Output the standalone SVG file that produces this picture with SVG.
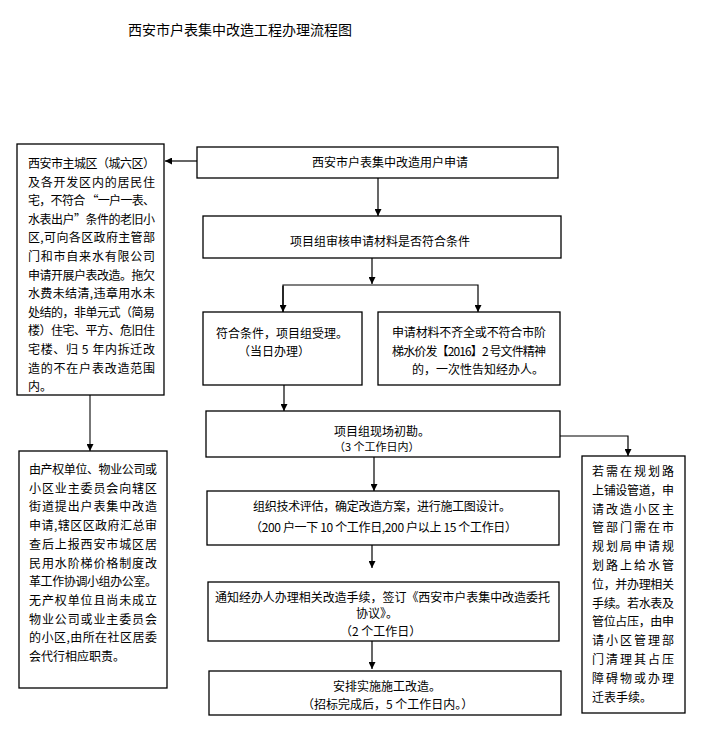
<svg xmlns="http://www.w3.org/2000/svg" width="707" height="756" viewBox="0 0 707 756">
<style>
.bx{fill:#fff;stroke:#000;stroke-width:1.3}
.t{font-family:"Noto Sans CJK SC","Liberation Sans",sans-serif;font-size:12px;fill:#000}
.s{font-size:11px}
.ln{fill:none;stroke:#000;stroke-width:1.2}
.gr{fill:none;stroke:#777;stroke-width:2}
</style>
<defs>
<marker id="ah" viewBox="0 0 10 10" refX="10" refY="5" markerWidth="7" markerHeight="7" markerUnits="userSpaceOnUse" orient="auto">
<path d="M0,0 L10,5 L0,10 z" fill="#000"/>
</marker>
</defs>
<rect width="707" height="756" fill="#fff"/>
<text class="t" x="128" y="35" style="font-size:14px">西安市户表集中改造工程办理流程图</text>

<g id="connectors">
<line class="ln" x1="197" y1="161" x2="165" y2="161" marker-end="url(#ah)"/>
<line class="ln" x1="378" y1="178" x2="378" y2="216" marker-end="url(#ah)"/>
<line class="ln" x1="372" y1="258" x2="372" y2="284" marker-end="url(#ah)"/>
<polyline class="ln" points="283,312 283,285 478,285 478,312" marker-end="url(#ah)"/>
<line class="ln" x1="283" y1="286" x2="283" y2="312" marker-end="url(#ah)"/>
<line class="ln" x1="284" y1="385" x2="284" y2="411" marker-end="url(#ah)"/>
<line class="gr" x1="90" y1="395" x2="90" y2="451" marker-end="url(#ah)"/>
<line class="ln" x1="374" y1="457" x2="374" y2="491" marker-end="url(#ah)"/>
<line class="ln" x1="372" y1="545" x2="372" y2="568" marker-end="url(#ah)"/>
<line class="ln" x1="372" y1="641" x2="372" y2="669" marker-end="url(#ah)"/>
<polyline class="ln" points="560,436 628,436 628,456" marker-end="url(#ah)"/>
</g>

<g id="n-left-top">
<rect class="bx" x="17" y="144" width="147" height="251"/>
<text class="t" x="28" y="168" textLength="127" lengthAdjust="spacing">西安市主城区（城六区）</text>
<text class="t" x="28" y="186.6" textLength="127" lengthAdjust="spacing">及各开发区内的居民住</text>
<text class="t" x="28" y="205.2" textLength="127" lengthAdjust="spacing">宅，不符合 “一户一表、</text>
<text class="t" x="28" y="223.8" textLength="127" lengthAdjust="spacing">水表出户”条件的老旧小</text>
<text class="t" x="28" y="242.4" textLength="127" lengthAdjust="spacing">区,可向各区政府主管部</text>
<text class="t" x="28" y="261" textLength="127" lengthAdjust="spacing">门和市自来水有限公司</text>
<text class="t" x="28" y="279.6" textLength="127" lengthAdjust="spacing">申请开展户表改造。拖欠</text>
<text class="t" x="28" y="298.2" textLength="127" lengthAdjust="spacing">水费未结清,违章用水未</text>
<text class="t" x="28" y="316.8" textLength="127" lengthAdjust="spacing">处结的，非单元式（简易</text>
<text class="t" x="28" y="335.4" textLength="127" lengthAdjust="spacing">楼）住宅、平方、危旧住</text>
<text class="t" x="28" y="354" textLength="127" lengthAdjust="spacing">宅楼、归 5 年内拆迁改</text>
<text class="t" x="28" y="372.6" textLength="127" lengthAdjust="spacing">造的不在户表改造范围</text>
<text class="t" x="28" y="391.2">内。</text>
</g>

<g id="n-left-bottom">
<rect class="bx" x="19" y="451" width="148" height="237"/>
<text class="t" x="29" y="474" textLength="128" lengthAdjust="spacing">由产权单位、物业公司或</text>
<text class="t" x="29" y="492.7" textLength="128" lengthAdjust="spacing">小区业主委员会向辖区</text>
<text class="t" x="29" y="511.4" textLength="128" lengthAdjust="spacing">街道提出户表集中改造</text>
<text class="t" x="29" y="530.1" textLength="128" lengthAdjust="spacing">申请,辖区区政府汇总审</text>
<text class="t" x="29" y="548.8" textLength="128" lengthAdjust="spacing">查后上报西安市城区居</text>
<text class="t" x="29" y="567.5" textLength="128" lengthAdjust="spacing">民用水阶梯价格制度改</text>
<text class="t" x="29" y="586.2" textLength="128" lengthAdjust="spacing">革工作协调小组办公室。</text>
<text class="t" x="29" y="604.9" textLength="128" lengthAdjust="spacing">无产权单位且尚未成立</text>
<text class="t" x="29" y="623.6" textLength="128" lengthAdjust="spacing">物业公司或业主委员会</text>
<text class="t" x="29" y="642.3" textLength="128" lengthAdjust="spacing">的小区,由所在社区居委</text>
<text class="t" x="29" y="661">会代行相应职责。</text>
</g>

<g id="n-apply">
<rect class="bx" x="197" y="147" width="361" height="31"/>
<text class="t" x="312" y="167">西安市户表集中改造用户申请</text>
</g>

<g id="n-review">
<rect class="bx" x="203" y="216" width="358" height="42"/>
<text class="t" x="290" y="246">项目组审核申请材料是否符合条件</text>
</g>

<g id="n-accept">
<rect class="bx" x="203" y="312" width="159" height="73"/>
<text class="t" x="216" y="338">符合条件，项目组受理。</text>
<text class="t" x="238" y="356">（当日办理）</text>
</g>

<g id="n-reject">
<rect class="bx" x="378" y="312" width="182" height="73"/>
<text class="t" x="392" y="337" textLength="154" lengthAdjust="spacing">申请材料不齐全或不符合市阶</text>
<text class="t" x="392" y="356" textLength="154" lengthAdjust="spacing">梯水价发【2016】2 号文件精神</text>
<text class="t" x="412" y="374">的，一次性告知经办人。</text>
</g>

<g id="n-survey">
<rect class="bx" x="206" y="411" width="354" height="46"/>
<text class="t" x="334" y="436">项目组现场初勘。</text>
<text class="t s" x="334" y="451">（3 个工作日内）</text>
</g>

<g id="n-design">
<rect class="bx" x="207" y="491" width="352" height="54"/>
<text class="t" x="253" y="511" textLength="258" lengthAdjust="spacing">组织技术评估，确定改造方案，进行施工图设计。</text>
<text class="t" x="250" y="532" textLength="267" lengthAdjust="spacing">（200 户一下 10 个工作日,200 户以上 15 个工作日）</text>
</g>

<g id="n-notify">
<rect class="bx" x="208" y="582" width="351" height="59"/>
<text class="t" x="215" y="602" textLength="335" lengthAdjust="spacing">通知经办人办理相关改造手续，签订《西安市户表集中改造委托</text>
<text class="t" x="356" y="618">协议》。</text>
<text class="t" x="340" y="636">（2 个工作日）</text>
</g>

<g id="n-build">
<rect class="bx" x="209" y="671" width="352" height="44"/>
<text class="t" x="333" y="691">安排实施施工改造。</text>
<text class="t" x="302" y="709">（招标完成后，5 个工作日内。）</text>
</g>

<g id="n-right">
<rect class="bx" x="582" y="456" width="103" height="257"/>
<text class="t" x="592" y="476" textLength="82" lengthAdjust="spacing">若需在规划路</text>
<text class="t" x="592" y="494.8" textLength="82" lengthAdjust="spacing">上铺设管道，申</text>
<text class="t" x="592" y="513.6" textLength="82" lengthAdjust="spacing">请改造小区主</text>
<text class="t" x="592" y="532.4" textLength="82" lengthAdjust="spacing">管部门需在市</text>
<text class="t" x="592" y="551.2" textLength="82" lengthAdjust="spacing">规划局申请规</text>
<text class="t" x="592" y="570" textLength="82" lengthAdjust="spacing">划路上给水管</text>
<text class="t" x="592" y="588.8" textLength="82" lengthAdjust="spacing">位，并办理相关</text>
<text class="t" x="592" y="607.6" textLength="82" lengthAdjust="spacing">手续。若水表及</text>
<text class="t" x="592" y="626.4" textLength="82" lengthAdjust="spacing">管位占压，由申</text>
<text class="t" x="592" y="645.2" textLength="82" lengthAdjust="spacing">请小区管理部</text>
<text class="t" x="592" y="664" textLength="82" lengthAdjust="spacing">门清理其占压</text>
<text class="t" x="592" y="682.8" textLength="82" lengthAdjust="spacing">障碍物或办理</text>
<text class="t" x="592" y="701.6">迁表手续。</text>
</g>
</svg>
